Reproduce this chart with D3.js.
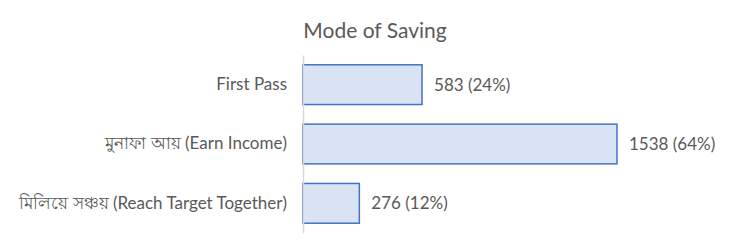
<!DOCTYPE html>
<html>
<head>
<meta charset="utf-8">
<script src="https://cdn.jsdelivr.net/npm/d3@7"></script>
<style>
  html, body { margin: 0; padding: 0; background: #fff; }
  svg { display: block; font-family: Lato, "Noto Sans", "DejaVu Sans", sans-serif; }
</style>
</head>
<body>
<svg id="chart" width="750" height="250"></svg>
<script>
// Categories, counts and shares for the savings modes
const categories = ["First Pass", "মুনাফা আয় (Earn Income)", "মিলিয়ে সঞ্চয় (Reach Target Together)"];
const counts = [583, 1538, 276];
const shares = [24, 64, 12];
const chartTitle = "Mode of Saving";

const svg = d3.select("#chart");
const textColor = "#595959";

const x = d3.scaleLinear().domain([0, 1538]).range([303, 617]);
const y = d3.scaleBand().domain(categories).range([55, 233]).paddingInner(0.33).paddingOuter(0.165);

// Title
svg.append("text")
  .attr("x", 375).attr("y", 38)
  .attr("text-anchor", "middle")
  .attr("font-size", 21)
  .attr("fill", textColor)
  .text(chartTitle);

// Bars
svg.selectAll("rect.bar")
  .data(categories)
  .join("rect")
  .attr("class", "bar")
  .attr("x", x(0))
  .attr("y", d => y(d))
  .attr("width", (d, i) => x(counts[i]) - x(0))
  .attr("height", y.bandwidth())
  .attr("fill", "#dae3f3")
  .attr("stroke", "#4472c4")
  .attr("stroke-width", 1.5);

// Category axis
const yAxis = svg.append("g")
  .attr("transform", `translate(${x(0)},0)`)
  .call(d3.axisLeft(y).tickSize(0).tickPadding(16));
yAxis.select(".domain").attr("stroke", "#d9d9d9").attr("stroke-width", 1.5);
yAxis.selectAll("text")
  .attr("font-size", 17)
  .attr("fill", textColor)
  .attr("font-family", "Lato, 'Noto Sans', 'DejaVu Sans', sans-serif");

// Value labels
svg.selectAll("text.val")
  .data(categories)
  .join("text")
  .attr("class", "val")
  .attr("x", (d, i) => x(counts[i]) + 12)
  .attr("y", d => y(d) + y.bandwidth() / 2)
  .attr("dy", "0.35em")
  .attr("font-size", 17)
  .attr("fill", textColor)
  .text((d, i) => `${counts[i]} (${shares[i]}%)`);
</script>
</body>
</html>
